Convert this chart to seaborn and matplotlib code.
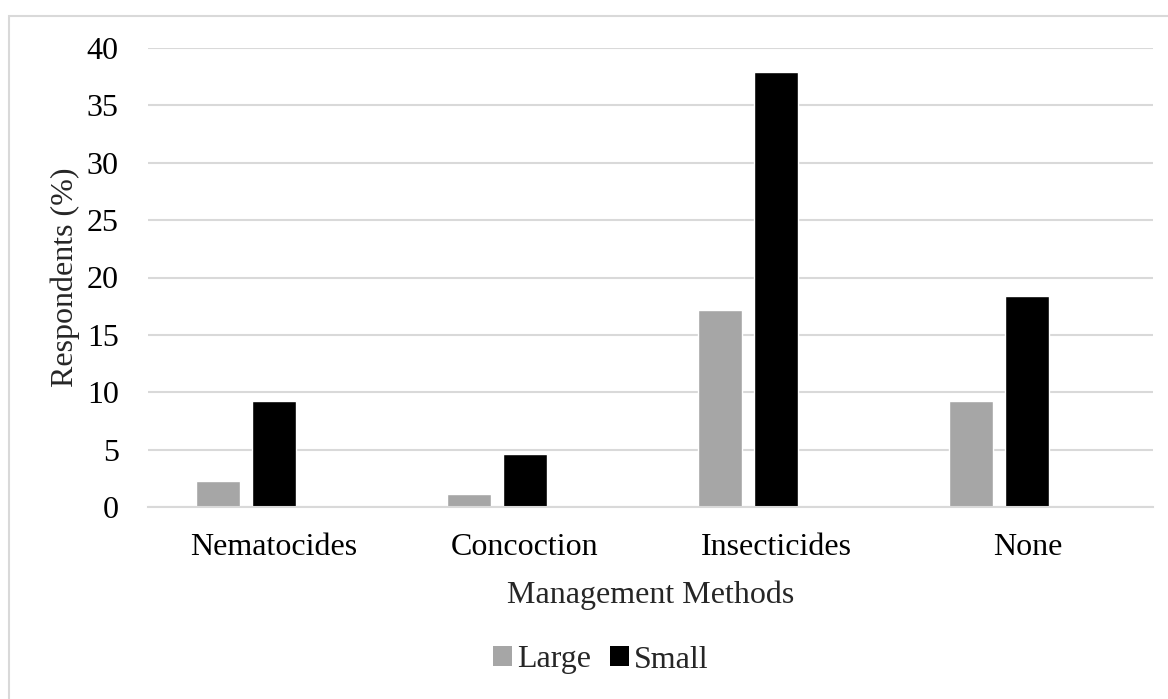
import matplotlib
matplotlib.use("Agg")
import matplotlib.pyplot as plt
import seaborn as sns
import pandas as pd
from matplotlib.patches import Patch, Rectangle

categories = ["Nematocides", "Concoction", "Insecticides", "None"]
large = [2.3, 1.1, 17.2, 9.2]
small = [9.2, 4.6, 37.9, 18.4]
series = ["Large", "Small"]
colors = {"Large": "#a6a6a6", "Small": "#000000", " ": "#ffffff"}

df = pd.DataFrame({
    "Method": categories * 2,
    "Size": ["Large"] * len(categories) + ["Small"] * len(categories),
    "Value": large + small,
})

sns.set_theme(style="white")
plt.rcParams["font.family"] = ["Liberation Serif", "DejaVu Serif"]

fs = 23

fig = plt.figure(figsize=(11.68, 6.99), dpi=100)
fig.patches.append(Rectangle((9 / 1168, -0.1), 1.2, 0.1 + 1 - 16 / 699,
                             transform=fig.transFigure, fill=False,
                             edgecolor="#d9d9d9", linewidth=1.5))
ax = fig.add_axes([148 / 1168, 1 - 507 / 699, (1153 - 148) / 1168, (507 - 48) / 699])

sns.barplot(data=df, x="Method", y="Value", hue="Size",
            hue_order=["Large", "Small", " "], order=categories,
            palette=colors, width=0.668, gap=0.214, ax=ax,
            legend=False, errorbar=None, saturation=1)

ax.set_ylim(0, 40)
ax.set_yticks(range(0, 41, 5))
ax.set_xlim(-0.5, len(categories) - 0.5)
ax.yaxis.grid(True, color="#d9d9d9", linewidth=1.5)
ax.set_axisbelow(True)
for s in ["top", "right", "left"]:
    ax.spines[s].set_visible(False)
ax.spines["bottom"].set_color("#d9d9d9")
ax.spines["bottom"].set_linewidth(1.5)
ax.tick_params(axis="both", length=0, labelsize=fs, colors="black")
ax.tick_params(axis="y", pad=21)
ax.tick_params(axis="x", pad=19)
ax.set_xlabel("Management Methods", fontsize=fs, labelpad=13)
ax.set_ylabel("Respondents (%)", fontsize=fs, labelpad=5)

handles = [Patch(facecolor=colors[s], edgecolor="none", label=s) for s in series]
fig.legend(handles=handles, loc="center", bbox_to_anchor=(601 / 1168, 1 - 660 / 699),
           ncol=2, frameon=False, fontsize=fs, handlelength=0.6, handleheight=0.6,
           handletextpad=0.15, columnspacing=0.6)

fig.savefig("out.png", dpi=100)
